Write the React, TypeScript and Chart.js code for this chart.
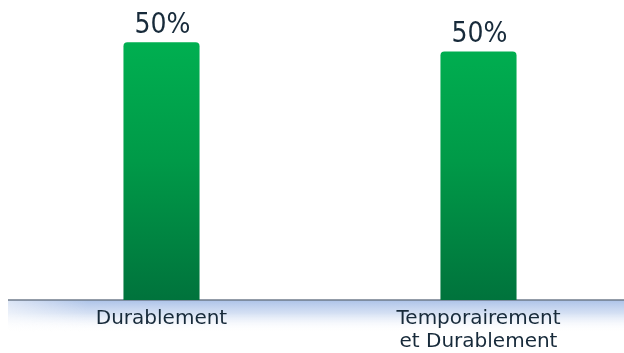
import React, { useEffect, useRef } from "react";
import { Chart, registerables } from "chart.js";

Chart.register(...registerables);

const categories: (string | string[])[] = ["Durablement", ["Temporairement", "et Durablement"]];
const values: number[] = [50.8, 49.0];
const valueLabels: string[] = ["50%", "50%"];
const yMax = 55;

const bandPlugin = {
  id: "band",
  beforeDraw(chart: any) {
    const { ctx, chartArea } = chart;
    if (!chartArea) return;
    const y0 = chartArea.bottom;
    const x0 = 8;
    const x1 = chart.width;
    ctx.save();
    const g = ctx.createLinearGradient(0, y0, 0, y0 + 32);
    g.addColorStop(0, "rgba(172,194,232,1)");
    g.addColorStop(0.4, "rgba(200,215,240,0.8)");
    g.addColorStop(1, "rgba(255,255,255,0)");
    ctx.fillStyle = g;
    ctx.fillRect(x0, y0, x1 - x0, 32);
    const h = ctx.createLinearGradient(x0, 0, x0 + 80, 0);
    h.addColorStop(0, "rgba(255,255,255,0.55)");
    h.addColorStop(1, "rgba(255,255,255,0)");
    ctx.fillStyle = h;
    ctx.fillRect(x0, y0, 80, 32);
    ctx.strokeStyle = "#6f7b8b";
    ctx.lineWidth = 1.5;
    ctx.beginPath();
    ctx.moveTo(x0, y0);
    ctx.lineTo(x1, y0);
    ctx.stroke();
    ctx.restore();
  },
};

const labelPlugin = {
  id: "valueLabels",
  afterDatasetsDraw(chart: any) {
    const { ctx } = chart;
    const meta = chart.getDatasetMeta(0);
    ctx.save();
    ctx.font = '28px "DejaVu Sans Condensed", "DejaVu Sans"';
    ctx.fillStyle = "#172a3a";
    ctx.textAlign = "center";
    ctx.textBaseline = "alphabetic";
    meta.data.forEach((bar: any, i: number) => {
      ctx.fillText(valueLabels[i], bar.x + 1, bar.y - 9);
    });
    ctx.restore();
  },
};

export default function App() {
  const ref = useRef<HTMLCanvasElement | null>(null);
  useEffect(() => {
    if (!ref.current) return;
    const chart = new Chart(ref.current, {
      type: "bar",
      data: {
        labels: categories as any,
        datasets: [
          {
            data: values,
            backgroundColor: (c: any) => {
              const area = c.chart.chartArea;
              if (!area) return "#00a050";
              const g = c.chart.ctx.createLinearGradient(0, area.top, 0, area.bottom);
              g.addColorStop(0, "#00b352");
              g.addColorStop(0.5, "#009a48");
              g.addColorStop(1, "#00733c");
              return g;
            },
            borderRadius: { topLeft: 4, topRight: 4, bottomLeft: 0, bottomRight: 0 },
            borderSkipped: "bottom",
            categoryPercentage: 1,
            barPercentage: 0.24,
          },
        ],
      },
      options: {
        animation: false,
        responsive: false,
        maintainAspectRatio: false,
        layout: { padding: { top: 21, left: 3, right: 3, bottom: 0 } },
        plugins: { legend: { display: false }, tooltip: { enabled: false } },
        scales: {
          y: { display: false, min: 0, max: yMax },
          x: {
            grid: { display: false, drawTicks: false },
            border: { display: false },
            afterFit: (s: any) => {
              s.height = 53;
            },
            ticks: {
              padding: 8,
              crossAlign: "near",
              color: "#172a3a",
              font: { family: '"DejaVu Sans"', size: 20, lineHeight: 1.12 },
              maxRotation: 0,
              autoSkip: false,
            },
          },
        },
      },
      plugins: [bandPlugin, labelPlugin],
    });
    return () => chart.destroy();
  }, []);
  return (
    <div style={{ position: "absolute", left: 0, top: 0, width: 624, height: 353, overflow: "hidden", background: "#fff" }}>
      <canvas ref={ref} width={640} height={353} style={{ display: "block", width: 640, height: 353 }} />
    </div>
  );
}
